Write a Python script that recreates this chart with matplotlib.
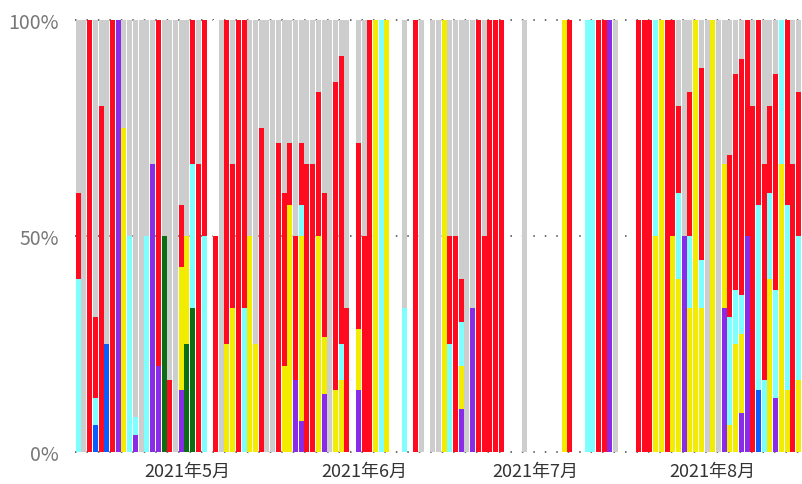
# plot.py - daily share per category, 100% stacked bars (Apr-Aug 2021)

import numpy as np
import pandas as pd
import matplotlib
matplotlib.use("Agg")
import matplotlib.pyplot as plt
import matplotlib.dates as mdates

plt.rcParams["font.family"] = ["Noto Sans CJK JP", "DejaVu Sans"]

# ─── Data: daily counts per category (127 days from 2021-04-12) ───────────────
start_date = "2021-04-12"
n_days = 127

blue = [0, 0, 0, 1, 0, 1, 0, 0, 0, 0,
        0, 0, 0, 0, 0, 0, 0, 0, 0, 0,
        0, 0, 0, 0, 0, 0, 0, 0, 0, 0,
        0, 0, 0, 0, 0, 0, 0, 0, 0, 0,
        0, 0, 0, 0, 0, 0, 0, 0, 0, 0,
        0, 0, 0, 0, 0, 0, 0, 0, 0, 0,
        0, 0, 0, 0, 0, 0, 0, 0, 0, 0,
        0, 0, 0, 0, 0, 0, 0, 0, 0, 0,
        0, 0, 0, 0, 0, 0, 0, 0, 0, 0,
        0, 0, 0, 0, 0, 0, 0, 0, 0, 0,
        0, 0, 0, 0, 0, 0, 0, 0, 0, 0,
        0, 0, 0, 0, 0, 0, 0, 0, 0, 1,
        0, 0, 0, 0, 0, 0, 0]

purple = [0, 0, 0, 0, 0, 0, 0, 1, 0, 0,
          1, 0, 0, 2, 1, 0, 0, 0, 1, 0,
          0, 0, 0, 0, 0, 0, 0, 0, 0, 0,
          0, 0, 0, 0, 0, 0, 0, 0, 1, 1,
          0, 0, 0, 2, 0, 0, 0, 0, 0, 1,
          0, 0, 0, 0, 0, 0, 0, 0, 0, 0,
          0, 0, 0, 0, 0, 0, 0, 1, 0, 1,
          0, 0, 0, 0, 0, 0, 0, 0, 0, 0,
          0, 0, 0, 0, 0, 0, 0, 0, 0, 0,
          0, 0, 0, 1, 0, 0, 0, 0, 0, 0,
          0, 0, 0, 0, 0, 0, 1, 0, 0, 0,
          0, 0, 0, 1, 0, 0, 1, 1, 0, 0,
          0, 0, 1, 0, 0, 0, 0]

green = [0, 0, 0, 0, 0, 0, 0, 0, 0, 0,
         0, 0, 0, 0, 0, 1, 0, 0, 0, 1,
         1, 0, 0, 0, 0, 0, 0, 0, 0, 0,
         0, 0, 0, 0, 0, 0, 0, 0, 0, 0,
         0, 0, 0, 0, 0, 0, 0, 0, 0, 0,
         0, 0, 0, 0, 0, 0, 0, 0, 0, 0,
         0, 0, 0, 0, 0, 0, 0, 0, 0, 0,
         0, 0, 0, 0, 0, 0, 0, 0, 0, 0,
         0, 0, 0, 0, 0, 0, 0, 0, 0, 0,
         0, 0, 0, 0, 0, 0, 0, 0, 0, 0,
         0, 0, 0, 0, 0, 0, 0, 0, 0, 0,
         0, 0, 0, 0, 0, 0, 0, 0, 0, 0,
         0, 0, 0, 0, 0, 0, 0]

yellow = [0, 0, 0, 0, 0, 0, 0, 0, 3, 0,
          0, 0, 0, 0, 0, 0, 0, 0, 2, 1,
          0, 0, 0, 0, 0, 0, 1, 1, 0, 0,
          1, 1, 0, 0, 0, 0, 1, 4, 0, 6,
          0, 0, 3, 2, 0, 1, 2, 0, 0, 1,
          0, 0, 1, 0, 1, 0, 0, 0, 0, 0,
          0, 0, 0, 0, 1, 0, 0, 1, 0, 0,
          0, 0, 0, 0, 0, 0, 0, 0, 0, 0,
          0, 0, 0, 0, 0, 1, 0, 0, 0, 0,
          0, 0, 0, 0, 0, 0, 0, 0, 0, 0,
          0, 1, 1, 0, 1, 2, 0, 2, 1, 3,
          0, 1, 0, 1, 1, 2, 2, 0, 0, 0,
          0, 2, 0, 2, 1, 0, 1]

cyan = [2, 0, 0, 1, 0, 0, 0, 0, 0, 1,
        1, 0, 1, 0, 0, 0, 0, 0, 0, 0,
        1, 0, 1, 0, 0, 0, 0, 0, 0, 1,
        0, 0, 0, 0, 0, 0, 0, 0, 0, 1,
        0, 0, 0, 0, 0, 0, 1, 0, 0, 0,
        0, 0, 0, 1, 0, 0, 0, 1, 0, 0,
        0, 0, 0, 0, 0, 1, 0, 1, 0, 0,
        0, 0, 0, 0, 0, 0, 0, 0, 0, 0,
        0, 0, 0, 0, 0, 0, 0, 0, 0, 1,
        1, 0, 0, 0, 0, 0, 0, 0, 0, 0,
        0, 1, 0, 0, 0, 1, 0, 1, 0, 1,
        0, 0, 0, 0, 4, 1, 1, 0, 0, 3,
        1, 1, 2, 1, 3, 0, 2]

red = [1, 0, 1, 3, 4, 0, 1, 0, 0, 0,
       0, 0, 0, 0, 4, 0, 1, 0, 1, 0,
       1, 2, 1, 0, 1, 0, 3, 1, 1, 2,
       0, 0, 3, 0, 0, 5, 2, 1, 2, 2,
       2, 2, 2, 5, 0, 5, 8, 1, 0, 3,
       1, 1, 0, 0, 0, 0, 0, 0, 0, 1,
       0, 0, 0, 0, 0, 1, 1, 1, 0, 0,
       1, 1, 1, 1, 1, 0, 0, 0, 0, 0,
       0, 0, 0, 0, 0, 0, 1, 0, 0, 0,
       0, 1, 1, 0, 0, 0, 0, 0, 1, 1,
       1, 0, 0, 1, 1, 1, 0, 2, 0, 4,
       0, 0, 0, 0, 6, 4, 6, 1, 4, 3,
       3, 1, 4, 0, 3, 2, 2]

gray = [2, 1, 0, 11, 1, 3, 0, 0, 1, 1,
        23, 1, 1, 1, 0, 1, 5, 1, 3, 2,
        0, 1, 0, 0, 0, 1, 0, 1, 0, 0,
        1, 3, 1, 1, 1, 2, 2, 2, 3, 4,
        1, 1, 1, 6, 1, 1, 1, 2, 0, 2,
        1, 0, 0, 0, 0, 0, 0, 2, 0, 0,
        1, 0, 1, 1, 0, 2, 1, 6, 1, 2,
        0, 1, 0, 0, 0, 0, 0, 0, 1, 0,
        0, 0, 0, 0, 0, 0, 0, 0, 0, 0,
        0, 0, 0, 0, 1, 0, 0, 0, 0, 0,
        0, 0, 0, 0, 0, 1, 1, 1, 0, 1,
        1, 0, 1, 1, 5, 1, 1, 0, 1, 0,
        2, 1, 1, 0, 0, 1, 1]

white = [0] * 24 + [1] + [0] * 102

month_ticks = ["2021-05-01", "2021-06-01", "2021-07-01", "2021-08-01"]
month_labels = ["2021年5月", "2021年6月", "2021年7月", "2021年8月"]
y_ticks = [0, 50, 100]
y_labels = ["0%", "50%", "100%"]

# stacking order bottom -> top, with colours
series = [
    ("blue",   blue,   "#0A5CFF"),
    ("purple", purple, "#8A2BE8"),
    ("green",  green,  "#0B6E14"),
    ("yellow", yellow, "#F2EC00"),
    ("cyan",   cyan,   "#7DFFFF"),
    ("red",    red,    "#FF0A1E"),
    ("gray",   gray,   "#CDCDCD"),
    ("white",  white,  "#FFFFFF"),
]

# ─── Build table ─────────────────────────────────────────────────────────────
dates = pd.date_range(start_date, periods=n_days, freq="D")
df = pd.DataFrame({name: vals for name, vals, _ in series}, index=dates)
totals = df.sum(axis=1).replace(0, np.nan)
pct = df.div(totals, axis=0).fillna(0) * 100

# ─── Plot ────────────────────────────────────────────────────────────────────
fig = plt.figure(figsize=(8.02, 4.85), dpi=100)
ax = fig.add_axes([75.4 / 802, 32 / 485, 726 / 802, 432 / 485])

x = mdates.date2num(dates.to_pydatetime())
bottom = np.zeros(n_days)
for name, _, color in series:
    vals = pct[name].values
    ax.bar(x, vals, bottom=bottom, width=0.875, color=color,
           linewidth=0, zorder=2)
    bottom += vals

for yv in y_ticks:
    ax.axhline(yv, color="#444444", lw=1.1, ls=(0, (1, 6.5)),
               zorder=1, clip_on=False)

ax.set_xlim(x[0] - 0.5, x[-1] + 0.5)
ax.set_ylim(0, 100)

ax.set_yticks(y_ticks)
ax.set_yticklabels(y_labels, fontsize=14, color="#777777")
tick_x = mdates.date2num(pd.to_datetime(month_ticks).to_pydatetime())
ax.set_xticks(tick_x)
ax.set_xticklabels(month_labels, fontsize=13, color="#333333")
ax.tick_params(axis="y", length=0, pad=12)
ax.tick_params(axis="x", length=0, pad=7)

for s in ax.spines.values():
    s.set_visible(False)

plt.savefig("out.png", dpi=100)
plt.close()
